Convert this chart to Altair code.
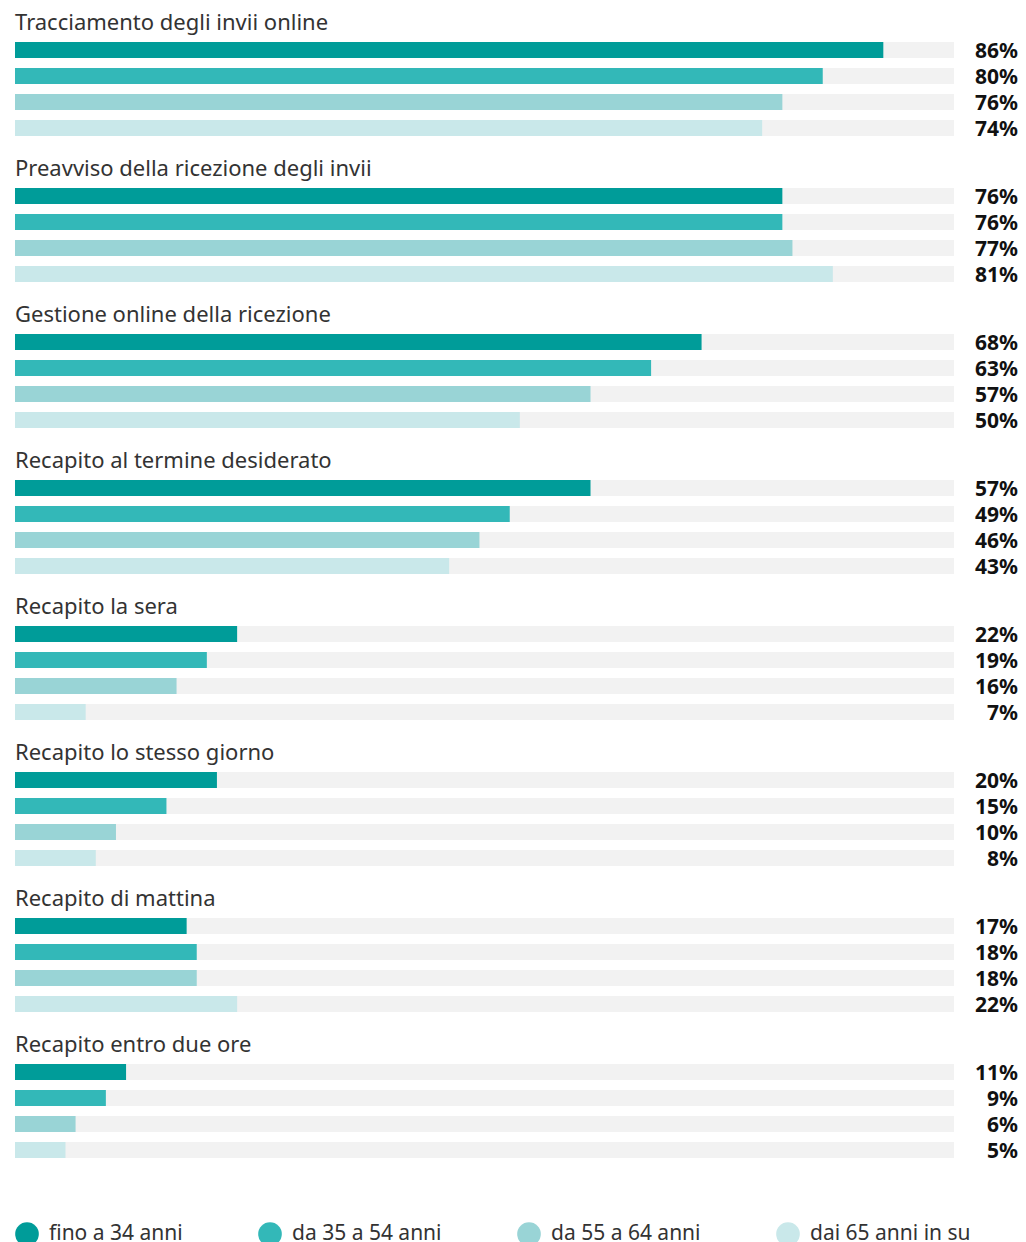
import altair as alt
import pandas as pd

categories = [
    "Tracciamento degli invii online",
    "Preavviso della ricezione degli invii",
    "Gestione online della ricezione",
    "Recapito al termine desiderato",
    "Recapito la sera",
    "Recapito lo stesso giorno",
    "Recapito di mattina",
    "Recapito entro due ore",
]
ages = ["fino a 34 anni", "da 35 a 54 anni", "da 55 a 64 anni", "dai 65 anni in su"]
v_34 = [86, 76, 68, 57, 22, 20, 17, 11]
v_35_54 = [80, 76, 63, 49, 19, 15, 18, 9]
v_55_64 = [76, 77, 57, 46, 16, 10, 18, 6]
v_65 = [74, 81, 50, 43, 7, 8, 22, 5]
colors = ["#009c99", "#33b8b8", "#99d4d6", "#c9e8ea"]

rows = []
for i, c in enumerate(categories):
    for a, vals in zip(ages, [v_34, v_35_54, v_55_64, v_65]):
        rows.append({"cat": c, "age": a, "val": vals[i], "lbl": f"{vals[i]}%"})
df = pd.DataFrame(rows)

FONT = "Noto Sans"
W = 939

y = alt.Y("age:N", sort=ages, axis=None, scale=alt.Scale(domain=ages, paddingInner=0, paddingOuter=0))

track = alt.Chart().mark_bar(color="#f2f2f2", height=16).encode(
    x=alt.value(0), x2=alt.value(W), y=y
)
bars = alt.Chart().mark_bar(height=16).encode(
    x=alt.X("val:Q", axis=None, scale=alt.Scale(domain=[0, 93], nice=False, zero=True)),
    y=y,
    color=alt.Color(
        "age:N",
        sort=ages,
        scale=alt.Scale(domain=ages, range=colors),
        legend=alt.Legend(
            title=None,
            orient="bottom",
            direction="horizontal",
            columns=4,
            symbolType="circle",
            symbolSize=560,
            symbolStrokeWidth=0,
            symbolOpacity=1,
            labelFont=FONT,
            labelFontSize=21,
            labelColor="#333333",
            labelLimit=400,
            columnPadding=75,
            offset=59,
            labelOffset=10,
        ),
    ),
)
labels = alt.Chart().mark_text(
    align="right", baseline="middle", font=FONT, fontSize=21, fontWeight="bold", color="#111111", dy=2
).encode(x=alt.value(1003), y=y, text="lbl:N")

layer = alt.layer(track, bars, labels, data=df).properties(width=W, height=alt.Step(26))

chart = layer.facet(
    row=alt.Row(
        "cat:N",
        sort=categories,
        title=None,
        header=alt.Header(
            labelOrient="top",
            labelAnchor="start",
            labelAngle=0,
            labelAlign="left",
            labelFont=FONT,
            labelFontSize=22,
            labelColor="#333333",
            labelLimit=900,
            labelPadding=-20,
        ),
    ),
    spacing=17,
).properties(padding={"left": 7, "top": 4, "right": 0, "bottom": 0}).configure_view(stroke=None)

chart.save("out.html", embed_options={"renderer": "svg", "actions": False})
